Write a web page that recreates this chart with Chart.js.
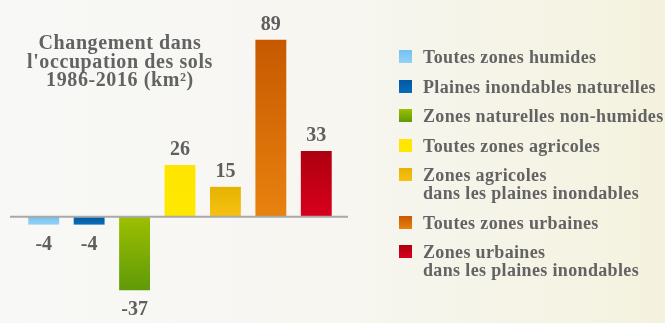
<!DOCTYPE html>
<html lang="fr">
<head>
<meta charset="utf-8">
<script src="https://cdn.jsdelivr.net/npm/chart.js@4/dist/chart.umd.min.js"></script>
<style>
  html, body { margin: 0; padding: 0; }
  body {
    width: 665px; height: 323px; overflow: hidden; position: relative;
    background: linear-gradient(90deg, #f8f8f6 0%, #f7f6f1 50%, #f4f2de 100%);
    font-family: "Liberation Serif", "DejaVu Serif", serif;
    color: #636363;
  }
  #wrap { position: absolute; left: 0; top: 0; width: 665px; height: 323px; }
  #titre {
    position: absolute; left: 20px; top: 33px; width: 200px;
    text-align: center; font-size: 20px; font-weight: bold; line-height: 18.5px;
    letter-spacing: 0.6px;
  }
  #legende { position: absolute; left: 399px; top: 48px; }
  .item { display: flex; align-items: flex-start; margin-bottom: 11.5px; }
  .carre { width: 13px; height: 13px; margin-top: 2px; margin-right: 11px; flex: none; }
  .txt { font-size: 18px; font-weight: bold; line-height: 18px; letter-spacing: 0.35px; }
</style>
</head>
<body>
<div id="wrap"><canvas id="myChart" width="665" height="323"></canvas></div>
<div id="titre">Changement dans<br>l'occupation des sols<br>1986-2016 (km²)</div>
<div id="legende"></div>
<script>
const categories = [
  ["Toutes zones humides"],
  ["Plaines inondables naturelles"],
  ["Zones naturelles non-humides"],
  ["Toutes zones agricoles"],
  ["Zones agricoles", "dans les plaines inondables"],
  ["Toutes zones urbaines"],
  ["Zones urbaines", "dans les plaines inondables"]
];
const valeurs = [-4, -4, -37, 26, 15, 89, 33];

// couleurs haut / bas de chaque barre
const couleursHaut = ["#74c2f0", "#005aa6", "#9dbf00", "#ffe500", "#e6b300", "#c65900", "#ad0010"];
const couleursBas  = ["#94d1f6", "#0b6cb6", "#5f9a08", "#ffe800", "#f7c114", "#e8820f", "#d8001c"];

const ctx = document.getElementById('myChart');

// legende en html
const legende = document.querySelector("#legende");
categories.forEach((cat, i) => {
  legende.innerHTML += `<div class="item">
    <div class="carre" style="background:linear-gradient(${couleursHaut[i]}, ${couleursBas[i]})"></div>
    <div class="txt">${cat.join("<br>")}</div></div>`;
});

function degrade(context) {
  const chart = context.chart;
  const i = context.dataIndex;
  const y = chart.scales.y;
  if (!chart.chartArea || !y) return couleursHaut[i];
  const v = valeurs[i];
  const yHaut = y.getPixelForValue(Math.max(v, 0));
  const yBas = y.getPixelForValue(Math.min(v, 0));
  const g = chart.ctx.createLinearGradient(0, yHaut, 0, yBas);
  g.addColorStop(0, couleursHaut[i]);
  g.addColorStop(1, couleursBas[i]);
  return g;
}

// ligne du zéro, un peu plus large que la zone du graphique
const ligneZero = {
  id: "ligneZero",
  afterDatasetsDraw(chart) {
    const c = chart.ctx;
    const y0 = chart.scales.y.getPixelForValue(0);
    c.save();
    c.strokeStyle = "#a9a9a9";
    c.lineWidth = 2;
    c.beginPath();
    c.moveTo(chart.chartArea.left - 11, y0);
    c.lineTo(chart.chartArea.right + 9, y0);
    c.stroke();
    c.restore();
  }
};

// valeurs au-dessus / en dessous des barres
const etiquettes = {
  id: "etiquettes",
  afterDatasetsDraw(chart) {
    const c = chart.ctx;
    const meta = chart.getDatasetMeta(0);
    c.save();
    c.font = "bold 20px 'Liberation Serif', serif";
    c.fillStyle = "#5f5f5f";
    c.textAlign = "center";
    c.textBaseline = "alphabetic";
    meta.data.forEach((bar, i) => {
      const v = valeurs[i];
      if (v >= 0) c.fillText(v, bar.x, bar.y - 10);
      else c.fillText(v, bar.x, bar.y + 25);
    });
    c.restore();
  }
};

new Chart(ctx, {
  type: "bar",
  data: {
    labels: categories,
    datasets: [{
      data: valeurs,
      backgroundColor: degrade,
      borderWidth: 0,
      categoryPercentage: 1,
      barPercentage: 0.68
    }]
  },
  options: {
    responsive: false,
    animation: false,
    layout: { padding: { left: 21, right: 326, top: 18, bottom: 7 } },
    plugins: { legend: { display: false }, tooltip: { enabled: false } },
    scales: {
      x: { display: false },
      y: { display: false, min: -50, max: 100 }
    }
  },
  plugins: [ligneZero, etiquettes]
});
</script>
</body>
</html>
